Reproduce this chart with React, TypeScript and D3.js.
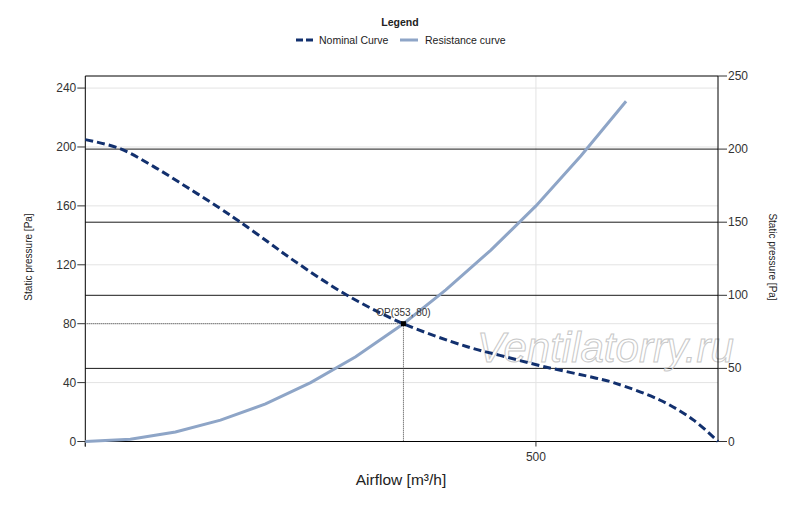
import * as d3 from "d3";

// values
const nominalFlow = [0, 38, 75, 112, 149, 172, 205, 231, 290, 353, 423, 460, 508, 567, 586, 638, 675, 702];
const nominalPressure = [205, 199, 187, 173, 158.5, 149, 134.5, 123, 99.5, 80, 64.5, 58.5, 51, 43, 40, 28, 14.5, 0];

const resistanceFlow = [0, 50, 100, 150, 200, 250, 300, 353, 400, 450, 500, 550, 600];
const resistancePressure = [0, 1.5, 6.5, 14.5, 25.5, 40, 57.5, 80, 103, 130, 160, 194, 231];

const leftTicks = [0, 40, 80, 120, 160, 200, 240];
const rightTicks = [0, 50, 100, 150, 200, 250];
const rightGrid = [50, 100, 150, 200];
const xTicks = [0, 500];
const xLabels = [500];

const opFlow = 353;
const opPressure = 80;

const W = 800;
const H = 507;
const margin = { top: 76, right: 82, bottom: 65.5, left: 85.3 };

const NOMINAL = "#12306e";
const RESIST = "#8ea5c7";
const FONT = "'Liberation Sans', Arial, sans-serif";

export default function App() {
  const x = d3
    .scaleLinear()
    .domain([0, 702])
    .range([margin.left, W - margin.right]);
  const yL = d3
    .scaleLinear()
    .domain([0, 248.2])
    .range([H - margin.bottom, margin.top]);
  const yR = d3
    .scaleLinear()
    .domain([0, 250])
    .range([H - margin.bottom, margin.top]);

  const x0 = x.range()[0];
  const x1 = x.range()[1];
  const yb = yL.range()[0];
  const yt = yL.range()[1];

  const nomLine = d3
    .line<number>()
    .x((d) => x(d))
    .y((_, i) => yL(nominalPressure[i]))
    .curve(d3.curveCatmullRom.alpha(0.5));
  const resLine = d3
    .line<number>()
    .x((d) => x(d))
    .y((_, i) => yL(resistancePressure[i]));

  const ox = x(opFlow);
  const oy = yL(opPressure);

  return (
    <svg
      width={W}
      height={H}
      style={{ position: "absolute", left: 0, top: 0, background: "#fff" }}
      fontFamily={FONT}
    >
      {/* legend */}
      <text x={400} y={26} textAnchor="middle" fontSize={10.5} fontWeight="bold" fill="#222">
        Legend
      </text>
      <line x1={296} x2={313} y1={40} y2={40} stroke={NOMINAL} strokeWidth={3} strokeDasharray="7,3" />
      <text x={319} y={44} fontSize={10.5} fill="#222">
        Nominal Curve
      </text>
      <line x1={400} x2={418} y1={40} y2={40} stroke={RESIST} strokeWidth={3} />
      <text x={425} y={44} fontSize={10.5} fill="#222">
        Resistance curve
      </text>

      {/* light grid */}
      {leftTicks.map((t) => (
        <line key={"gl" + t} x1={x0} x2={x1} y1={yL(t)} y2={yL(t)} stroke="#e3e3e3" strokeWidth={1} />
      ))}
      {xLabels.map((t) => (
        <line key={"gx" + t} x1={x(t)} x2={x(t)} y1={yt} y2={yb} stroke="#e3e3e3" strokeWidth={1} />
      ))}
      {/* right axis grid */}
      {rightGrid.map((t) => (
        <line key={"gr" + t} x1={x0} x2={x1} y1={yR(t)} y2={yR(t)} stroke="#1a1a1a" strokeWidth={1} />
      ))}

      {/* watermark */}
      <text
        x={477}
        y={362}
        fontSize={42}
        fontStyle="italic"
        fill="none"
        stroke="#c8c8c8"
        strokeWidth={1}
      >
        Ventilatorry.ru
      </text>

      {/* frame / axes */}
      <line x1={x0} x2={x1} y1={yt} y2={yt} stroke="#000" />
      <line x1={x0} x2={x1} y1={yb} y2={yb} stroke="#000" />
      <line x1={x0} x2={x0} y1={yt} y2={yb + 5} stroke="#000" />
      <line x1={x1} x2={x1} y1={yt} y2={yb} stroke="#000" />

      {leftTicks.map((t) => (
        <g key={"lt" + t}>
          <line x1={x0 - 8} x2={x0} y1={yL(t)} y2={yL(t)} stroke="#333" />
          <text x={x0 - 9} y={yL(t) + 4} textAnchor="end" fontSize={12} fill="#333">
            {t}
          </text>
        </g>
      ))}
      {rightTicks.map((t) => (
        <g key={"rt" + t}>
          <line x1={x1} x2={x1 + 9} y1={yR(t)} y2={yR(t)} stroke="#333" />
          <text x={x1 + 10} y={yR(t) + 4} fontSize={12} fill="#333">
            {t}
          </text>
        </g>
      ))}
      {xTicks.map((t) => (
        <line key={"xt" + t} x1={x(t)} x2={x(t)} y1={yb} y2={yb + 5} stroke="#333" />
      ))}
      {xLabels.map((t) => (
        <text key={"xl" + t} x={x(t)} y={461} textAnchor="middle" fontSize={12} fill="#333">
          {t}
        </text>
      ))}

      {/* axis titles */}
      <text
        transform={`translate(32,257) rotate(-90)`}
        textAnchor="middle"
        fontSize={10}
        fill="#222"
      >
        Static pressure [Pa]
      </text>
      <text
        transform={`translate(769,257) rotate(90)`}
        textAnchor="middle"
        fontSize={10}
        fill="#222"
      >
        Static pressure [Pa]
      </text>
      <text x={401} y={485} textAnchor="middle" fontSize={15.5} fill="#222">
        Airflow [m³/h]
      </text>

      {/* operating point guides */}
      <line x1={x0} x2={ox} y1={oy} y2={oy} stroke="#444" strokeDasharray="1,1" />
      <line x1={ox} x2={ox} y1={oy} y2={yb} stroke="#444" strokeDasharray="1,1" />

      {/* curves */}
      <path d={resLine(resistanceFlow) ?? ""} fill="none" stroke={RESIST} strokeWidth={3} />
      <path
        d={nomLine(nominalFlow) ?? ""}
        fill="none"
        stroke={NOMINAL}
        strokeWidth={3}
        strokeDasharray="8,4"
      />

      {/* operating point */}
      <rect x={ox - 2.5} y={oy - 2.5} width={5} height={5} fill="#000" />
      <text x={ox} y={316} textAnchor="middle" fontSize={10} fill="#333">
        OP({opFlow}, {opPressure})
      </text>
    </svg>
  );
}
